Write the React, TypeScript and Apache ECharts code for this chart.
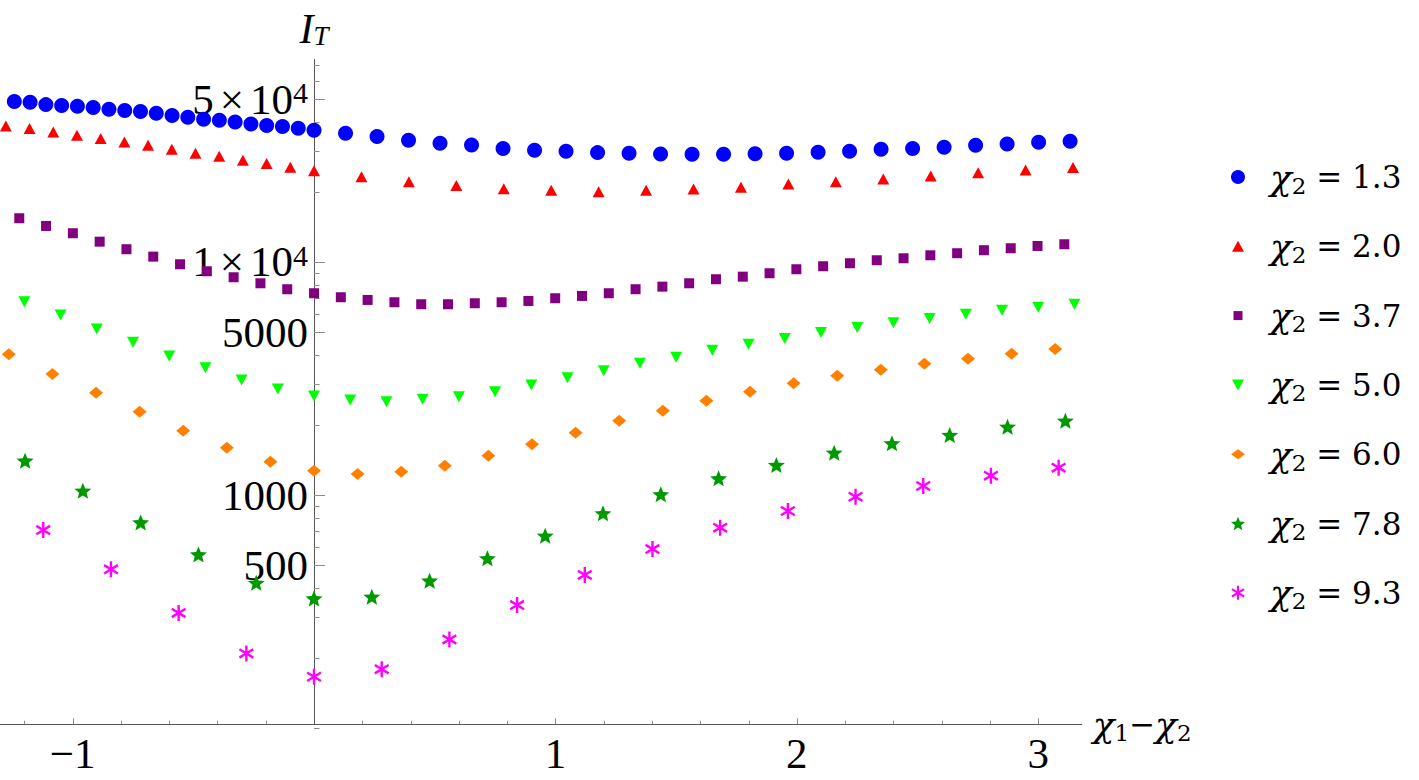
import React, { useEffect, useRef } from 'react';
import * as echarts from 'echarts';

// ---------- axis ranges ----------
const X_MIN = -1.3;
const X_MAX = 3.18;
const Y_MIN = 103.8;
const Y_MAX = 73900;

// ---------- tick values / labels ----------
const xLabelValues = [-1, 1, 2, 3];
const xTickValues = [-1.2, -1, -0.8, -0.6, -0.4, -0.2, 0.2, 0.4, 0.6, 0.8, 1, 1.2, 1.4, 1.6, 1.8, 2, 2.2, 2.4, 2.6, 2.8, 3];
const xMajorTicks = [-1, 1, 2, 3];
const yTickValues = [100, 200, 300, 400, 500, 600, 700, 800, 900, 1000, 2000, 3000, 4000, 5000, 6000, 7000, 8000, 9000, 10000, 20000, 30000, 40000, 50000, 60000, 70000];
const yMajorTicks = [500, 1000, 5000, 10000, 50000];
const yLabelValues = [500, 1000, 5000, 10000, 50000];
const yLabelTexts = ['500', '1000', '5000', '1 × 10^4', '5 × 10^4'];

// ---------- series ----------
const chiLabels = ['1.3', '2.0', '3.7', '5.0', '6.0', '7.8', '9.3'];
const seriesColors = ['#0000ff', '#ff0000', '#800080', '#00ff00', '#ff8000', '#009900', '#ff00ff'];

const blueX = [-1.2415, -1.1762, -1.1108, -1.0455, -0.9802, -0.9148, -0.8495, -0.7841, -0.7188, -0.6535, -0.5881, -0.5228, -0.4574, -0.3921, -0.3268, -0.2614, -0.1961, -0.1307, -0.0654, 0,
  0.1305, 0.261, 0.3915, 0.522, 0.6525, 0.783, 0.9135, 1.044, 1.1745, 1.305, 1.4355, 1.566, 1.6965, 1.827, 1.9575, 2.088, 2.2185, 2.349, 2.4795, 2.61, 2.7405, 2.871, 3.0015, 3.132];
const blueY = [48750, 48460, 47320, 46860, 46580, 45940, 45220, 44600, 44160, 43470, 42450, 41780, 40970, 40580, 39900, 39110, 38460, 38080, 37480, 36740,
  35670, 34500, 33300, 32320, 31780, 30640, 30160, 29870, 29450, 29280, 29050, 28980, 29000, 29150, 29300, 29570, 29870, 30460, 30640, 31070, 31690, 32100, 32640, 32960];

const redX = [-1.2766, -1.1784, -1.0802, -0.982, -0.8838, -0.7856, -0.6874, -0.5892, -0.491, -0.3928, -0.2946, -0.1964, -0.0982, 0,
  0.1965, 0.393, 0.5895, 0.786, 0.9825, 1.179, 1.3755, 1.572, 1.7685, 1.965, 2.1615, 2.358, 2.5545, 2.751, 2.9475, 3.144];
const redY = [38340, 37340, 36140, 34980, 33820, 32730, 31690, 30460, 29280, 28420, 27330, 26420, 25500, 24650,
  23230, 22110, 21260, 20630, 20310, 20030, 20310, 20570, 20920, 21620, 22110, 22710, 23390, 24160, 24820, 25400];

const purpleX = [-1.221, -1.11, -0.999, -0.888, -0.777, -0.666, -0.555, -0.444, -0.333, -0.222, -0.111, 0,
  0.111, 0.222, 0.333, 0.444, 0.555, 0.666, 0.777, 0.888, 0.999, 1.11, 1.221, 1.332, 1.443, 1.554, 1.665, 1.776, 1.887, 1.998, 2.109, 2.22, 2.331, 2.442, 2.553, 2.664, 2.775, 2.886, 2.997, 3.108];
const purpleY = [15400, 14270, 13280, 12220, 11340, 10540, 9775, 9122, 8597, 8100, 7637, 7341,
  7056, 6871, 6715, 6585, 6585, 6649, 6715, 6803, 6986, 7147, 7341, 7637, 7834, 8100, 8430, 8648, 8944, 9305, 9584, 9872, 10170, 10370, 10680, 10900, 11230, 11450, 11710, 11910];

const greenX = [-1.2, -1.05, -0.9, -0.75, -0.6, -0.45, -0.3, -0.15, 0,
  0.15, 0.3, 0.45, 0.6, 0.75, 0.9, 1.05, 1.2, 1.35, 1.5, 1.65, 1.8, 1.95, 2.1, 2.25, 2.4, 2.55, 2.7, 2.85, 3.0, 3.15];
const greenY = [6755, 5923, 5160, 4521, 3950, 3519, 3115, 2850, 2660,
  2557, 2514, 2574, 2642, 2776, 2966, 3187, 3415, 3674, 3899, 4182, 4433, 4694, 4982, 5236, 5489, 5722, 5965, 6204, 6391, 6582];

const orangeX = [-1.2642, -1.0836, -0.903, -0.7224, -0.5418, -0.3612, -0.1806, 0,
  0.1806, 0.3612, 0.5418, 0.7224, 0.903, 1.0836, 1.2642, 1.4448, 1.6254, 1.806, 1.9866, 2.1672, 2.3478, 2.5284, 2.709, 2.8896, 3.0702];
const orangeY = [4016, 3308, 2749, 2278, 1888, 1596, 1390, 1272,
  1231, 1259, 1336, 1475, 1651, 1851, 2084, 2300, 2540, 2776, 3016, 3251, 3449, 3661, 3846, 4042, 4232];

const starX = [-1.197, -0.9576, -0.7182, -0.4788, -0.2394, 0,
  0.2394, 0.4788, 0.7182, 0.9576, 1.197, 1.4364, 1.6758, 1.9152, 2.1546, 2.394, 2.6334, 2.8728, 3.1122];
const starY = [1404, 1043, 763, 556, 420, 360,
  366, 429, 535, 669, 835, 1007, 1179, 1345, 1519, 1667, 1809, 1964, 2084];

const astX = [-1.1216, -0.8412, -0.5608, -0.2804, 0,
  0.2804, 0.5608, 0.8412, 1.1216, 1.402, 1.6824, 1.9628, 2.2432, 2.5236, 2.804, 3.0844];
const astY = [707, 480, 312, 209, 166,
  179, 240, 337, 454, 586, 724, 854, 983, 1093, 1210, 1310];

const seriesX = [blueX, redX, purpleX, greenX, orangeX, starX, astX];
const seriesY = [blueY, redY, purpleY, greenY, orangeY, starY, astY];

// ---------- styles ----------
const SERIF = "'Liberation Serif', 'Times New Roman', serif";
const DSERIF = "'DejaVu Serif', serif";
const AXIS_COLOR = '#555555';
const TICK_COLOR = '#8c8c8c';

// 5-point star, inner radius 22 (outer 50)
const STAR = 'path://M50,0L62.93,32.2L97.55,34.55L70.92,56.8L79.39,90.45L50,72L20.61,90.45L29.08,56.8L2.45,34.55L37.07,32.2Z';
// 6-arm asterisk (three crossing bars)
const ASTER = 'path://M42.5,0L57.5,0L57.5,100L42.5,100ZM89.4,17.3L96.9,30.3L10.6,82.7L3.1,69.7ZM3.1,30.3L10.6,17.3L96.9,69.7L89.4,82.7Z';
const DOWN_TRI = 'path://M0,0L12,0L6,11Z';

const symbols = ['circle', 'triangle', 'rect', DOWN_TRI, 'diamond', STAR, ASTER];
const symbolSizes: any[] = [15, [12, 11], 10, [12, 11], [14, 12], [17, 16], [15, 16]];

const PAD = 'M0,0L0,0M14,14L14,14';
const legendIcons = [
  'circle',
  `path://${PAD}M1,12.5L7,1.5L13,12.5Z`,
  `path://${PAD}M2.5,2.5L11.5,2.5L11.5,11.5L2.5,11.5Z`,
  `path://${PAD}M1,1.5L13,1.5L7,12.5Z`,
  `path://${PAD}M0,7L7,2L14,7L7,12Z`,
  STAR,
  ASTER,
];

const seriesNames = chiLabels.map((c) => `χ2 = ${c}`);

const Y_RICH = {
  m: { fontFamily: SERIF, fontSize: 43, lineHeight: 43, color: '#000' },
  g: { fontFamily: SERIF, fontSize: 24, lineHeight: 43, color: '#000' },
  p: { fontFamily: SERIF, fontSize: 30, lineHeight: 22, verticalAlign: 'top', color: '#000' },
};

function yLabelRich(t: string) {
  const m = t.match(/^(\d) × 10\^(\d)$/);
  if (!m) return t;
  return `{m|${m[1]}}{g| }{m|×}{g| }{m|10}{p|${m[2]}}`;
}

const CHI_RICH = {
  c: { fontFamily: DSERIF, fontStyle: 'italic', fontSize: 36, lineHeight: 40, color: '#000' },
  s: { fontFamily: DSERIF, fontSize: 23, lineHeight: 22, verticalAlign: 'bottom', color: '#000' },
  m: { fontFamily: DSERIF, fontSize: 31, lineHeight: 40, color: '#000' },
};

const LEGEND_RICH = {
  c: { fontFamily: DSERIF, fontStyle: 'italic', fontSize: 36, lineHeight: 40, padding: [0, 0, 0, 20], color: '#000' },
  s: { fontFamily: DSERIF, fontSize: 23, lineHeight: 22, verticalAlign: 'bottom', color: '#000' },
  e: { fontFamily: DSERIF, fontSize: 31, lineHeight: 40, color: '#000' },
};

const IT_RICH = {
  i: { fontFamily: SERIF, fontStyle: 'italic', fontSize: 42, lineHeight: 42, color: '#000' },
  t: { fontFamily: SERIF, fontStyle: 'italic', fontSize: 27, lineHeight: 22, verticalAlign: 'bottom', color: '#000' },
};

function buildOption() {
  const scatter = seriesNames.map((name, i) => ({
    name,
    type: 'scatter',
    data: seriesX[i].map((x, k) => [x, seriesY[i][k]]),
    symbol: symbols[i],
    symbolSize: symbolSizes[i],
    itemStyle: { color: seriesColors[i], opacity: 1 },
    clip: false,
    z: 5,
    silent: true,
  }));

  const yTicks = {
    type: 'custom',
    name: 'yticks',
    data: yTickValues.map((v) => [0, v]),
    silent: true,
    z: 1,
    renderItem: (params: any, api: any) => {
      const v = api.value(1);
      const p = api.coord([0, v]);
      const len = yMajorTicks.indexOf(v) >= 0 ? 11 : 5.5;
      const y = Math.round(p[1]) + 0.5;
      return {
        type: 'line',
        shape: { x1: p[0], y1: y, x2: p[0] + len, y2: y },
        style: { stroke: TICK_COLOR, lineWidth: 1 },
      };
    },
  };

  const xTicks = {
    type: 'custom',
    name: 'xticks',
    data: xTickValues.map((v) => [v, Y_MIN]),
    silent: true,
    z: 1,
    renderItem: (params: any, api: any) => {
      const v = api.value(0);
      const p = api.coord([v, Y_MIN]);
      const len = xMajorTicks.indexOf(v) >= 0 ? 6 : 3.5;
      const x = Math.round(p[0]) + 0.5;
      return {
        type: 'line',
        shape: { x1: x, y1: p[1], x2: x, y2: p[1] - len },
        style: { stroke: TICK_COLOR, lineWidth: 1 },
      };
    },
  };

  const yLabels = {
    type: 'custom',
    name: 'ylabels',
    data: yLabelValues.map((v) => [0, v]),
    silent: true,
    z: 4,
    renderItem: (params: any, api: any) => {
      const i = params.dataIndex;
      const p = api.coord([0, api.value(1)]);
      return {
        type: 'text',
        x: p[0] - 6,
        y: p[1],
        style: {
          text: yLabelRich(yLabelTexts[i]),
          fontFamily: SERIF,
          fontSize: 43,
          fill: '#000',
          align: 'right',
          verticalAlign: 'middle',
          rich: Y_RICH,
        },
      };
    },
  };

  return {
    animation: false,
    backgroundColor: '#ffffff',
    grid: { left: 0.2, top: 59.5, width: 1081.5, height: 664.8, containLabel: false },
    legend: {
      data: seriesNames.map((n, i) => ({ name: n, icon: legendIcons[i] })),
      orient: 'vertical',
      left: 1226,
      top: 154,
      itemWidth: 14,
      itemHeight: 14,
      itemGap: 31.3,
      selectedMode: false,
      formatter: (name: string) => {
        const m = name.match(/^χ2 = (.*)$/);
        return `{c|χ}{s|2}{e| = ${m ? m[1] : name}}`;
      },
      textStyle: { rich: LEGEND_RICH },
    },
    xAxis: {
      type: 'value',
      min: X_MIN,
      max: X_MAX,
      name: '{c|χ}{s|1}{m|−}{c|χ}{s|2}',
      nameLocation: 'end',
      nameGap: 11,
      nameTextStyle: { rich: CHI_RICH },
      axisLine: { show: true, onZero: false, lineStyle: { color: AXIS_COLOR, width: 1 } },
      axisTick: { show: false },
      splitLine: { show: false },
      axisLabel: {
        show: true,
        customValues: xLabelValues,
        fontFamily: SERIF,
        fontSize: 43,
        color: '#000',
        margin: 8,
        formatter: (v: number) => (v === 0 ? '' : v < 0 ? `−${Math.abs(v)}` : String(v)),
      },
    },
    yAxis: {
      type: 'log',
      logBase: 10,
      min: Y_MIN,
      max: Y_MAX,
      name: '{i|I}{t|T}',
      nameLocation: 'end',
      nameGap: 10,
      nameTextStyle: { rich: IT_RICH },
      axisLine: { show: true, onZero: true, lineStyle: { color: AXIS_COLOR, width: 1 } },
      axisTick: { show: false },
      axisLabel: { show: false },
      splitLine: { show: false },
      minorTick: { show: false },
    },
    series: [xTicks, yTicks, yLabels, ...scatter],
  };
}

export default function App() {
  const ref = useRef<HTMLDivElement>(null);
  useEffect(() => {
    if (!ref.current) return;
    const chart = echarts.init(ref.current, undefined, { renderer: 'svg' });
    chart.setOption(buildOption() as any);
    return () => {
      chart.dispose();
    };
  }, []);
  return (
    <div
      ref={ref}
      style={{ position: 'absolute', left: 0, top: 0, width: 1419, height: 780, background: '#ffffff' }}
    />
  );
}
